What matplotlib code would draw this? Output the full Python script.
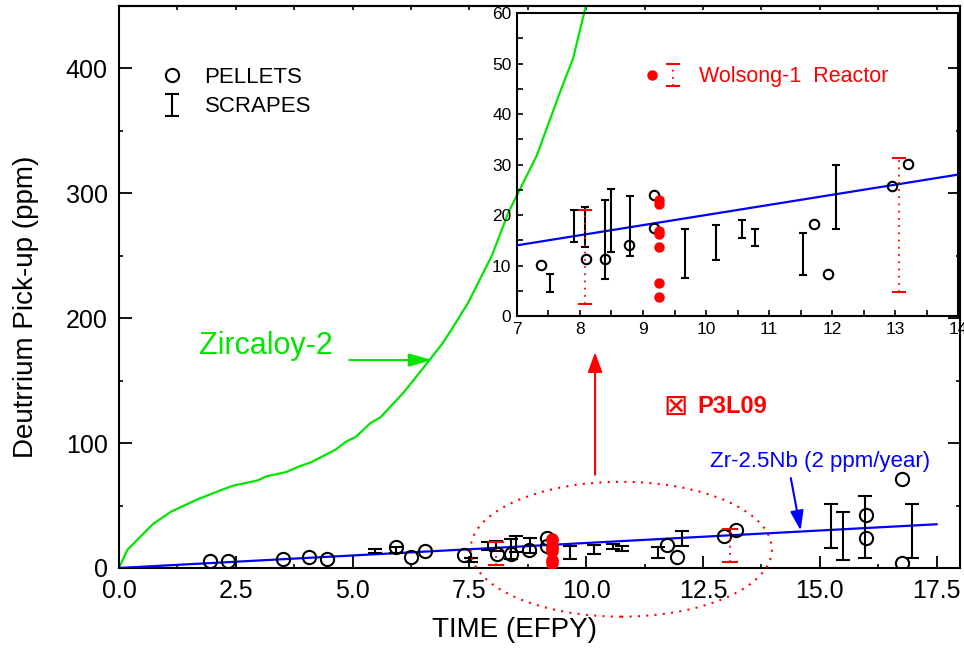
import numpy as np
import matplotlib.pyplot as plt
from matplotlib.patches import Ellipse
from matplotlib.legend_handler import HandlerTuple
from matplotlib.ticker import MultipleLocator, FormatStrFormatter

plt.rcParams['font.family'] = ['Liberation Sans', 'DejaVu Sans']

GREEN = '#00e600'

# Zircaloy-2 curve (EFPY, ppm)
zirc_t = [0.0, 0.18, 0.73, 1.12, 1.66, 2.08, 2.44, 2.97, 3.15, 3.58, 3.86, 4.11, 4.36,
          4.64, 4.85, 5.07, 5.39, 5.60, 6.10, 6.63, 6.91, 7.12, 7.48, 7.98, 8.34, 8.94,
          9.47, 9.72, 10.0]
zirc_d = [0.0, 14.5, 35.3, 45.2, 54.6, 60.8, 65.9, 70.1, 73.3, 76.8, 81.4, 84.6, 89.4,
          94.8, 100.9, 105.0, 116.2, 120.7, 140.8, 165.7, 179.0, 191.0, 212.8, 250.0, 285.0, 330.0,
          384.0, 408.0, 451.0]

# Zr-2.5Nb trend (2 ppm/year)
fit_t = [0.0, 17.5]
fit_d = [0.0, 35.0]

# pellets
pel_t = [1.95, 2.33, 3.52, 4.07, 4.46, 5.94, 6.25, 6.55, 7.38, 8.10, 8.39, 8.77, 9.17, 9.17,
         11.72, 11.94, 12.96, 13.21, 15.98, 15.98, 16.76, 16.76]
pel_d = [5.9, 5.4, 7.5, 9.1, 7.0, 16.6, 8.6, 13.9, 10.2, 11.3, 11.3, 14.0, 23.9, 17.5,
         18.3, 8.4, 25.7, 30.2, 42.6, 23.8, 71.2, 3.7]

# scrapes (low / high)
scr_t = [5.47, 5.94, 7.53, 7.90, 8.08, 8.40, 8.49, 8.79, 9.66, 10.16, 10.57, 10.77, 11.54,
         12.06, 15.23, 15.49, 15.96, 16.97]
scr_lo = [12.3, 12.0, 4.7, 14.6, 13.7, 7.4, 12.6, 11.8, 7.5, 11.0, 15.4, 13.8, 8.2,
          17.3, 15.8, 6.4, 7.7, 7.7]
scr_hi = [15.0, 16.8, 8.3, 21.0, 21.6, 22.9, 25.2, 23.7, 17.3, 18.1, 19.0, 17.3, 16.5,
          30.0, 51.1, 45.2, 57.3, 51.4]

# Wolsong-1 reactor
wol_t = [9.26, 9.26, 9.26, 9.26, 9.26, 9.26, 9.26]
wol_d = [22.9, 22.1, 16.9, 16.2, 13.7, 6.5, 3.8]
wol_scr_t = [8.08, 13.07]
wol_scr_lo = [2.4, 4.7]
wol_scr_hi = [21.0, 31.2]

scr_mid = (np.array(scr_lo) + np.array(scr_hi)) / 2
scr_err = (np.array(scr_hi) - np.array(scr_lo)) / 2
wol_mid = (np.array(wol_scr_lo) + np.array(wol_scr_hi)) / 2
wol_err = (np.array(wol_scr_hi) - np.array(wol_scr_lo)) / 2


def draw_data(a, big):
    ms = 9.5 if big else 6.8
    cap = 4.7 if big else 2.8
    a.plot(zirc_t, zirc_d, color=GREEN, lw=1.6, zorder=2)
    a.plot(fit_t, fit_d, color='blue', lw=1.6, zorder=3)
    sc = a.errorbar(scr_t, scr_mid, yerr=scr_err, fmt='none', ecolor='k',
                    elinewidth=1.5, capsize=cap, capthick=1.5, zorder=4)
    pl, = a.plot(pel_t, pel_d, 'o', mfc='none', mec='k', ms=ms, mew=1.5, zorder=4)
    wb = a.errorbar(wol_scr_t, wol_mid, yerr=wol_err, fmt='none', ecolor='red',
                    elinewidth=1.3, capsize=6 if big else 4.7, capthick=1.5, zorder=5)
    wb[2][0].set_linestyle((0, (1, 3)))
    wp, = a.plot(wol_t, wol_d, 'o', color='red', ms=8 if big else 6.5, zorder=6)
    return pl, sc, wp, wb


fig = plt.figure(figsize=(9.64, 6.5), dpi=100)
ax = fig.add_axes([0.1234, 0.1262, 0.8724, 0.8646])
pl, sc, wp, wb = draw_data(ax, True)

ax.set_xlim(0, 18)
ax.set_ylim(0, 450)
ax.set_xticks(np.arange(0, 17.6, 2.5))
ax.xaxis.set_major_formatter(FormatStrFormatter('%.1f'))
ax.xaxis.set_minor_locator(MultipleLocator(1.25))
ax.set_yticks(np.arange(0, 401, 100))
ax.yaxis.set_minor_locator(MultipleLocator(50))
ax.tick_params(which='major', direction='in', length=9, width=1.3, labelsize=18, pad=8,
               right=True)
ax.tick_params(which='minor', direction='in', length=3, width=1.2, right=True)
top = ax.secondary_xaxis('top')
top.set_xticks(np.arange(0, 18, 1.25))
top.tick_params(direction='in', length=3, width=1.2, labeltop=False)
top.spines['top'].set_linewidth(1.5)
for s in ax.spines.values():
    s.set_linewidth(1.5)

ax.set_xlabel('TIME (EFPY)', fontsize=20)
ax.set_ylabel('Deutrrium Pick-up (ppm)', fontsize=20)
ax.xaxis.set_label_coords(0.47, -0.087)
ax.yaxis.set_label_coords(-0.095, 0.465)

# legend
leg = ax.legend([pl, sc], ['PELLETS', 'SCRAPES'], loc='upper left',
                bbox_to_anchor=(0.037, 0.912), frameon=False, fontsize=16,
                handlelength=1.0, handletextpad=0.95, borderpad=0, labelspacing=0.4)

# highlight ellipse and arrows
ax.add_patch(Ellipse((10.75, 15), 6.45, 108, fill=False, ec='red', lw=1.5,
                     ls=(0, (1, 3)), clip_on=False, zorder=7))
ax.annotate('', xy=(10.19, 172.7), xytext=(10.19, 74.7),
            arrowprops=dict(arrowstyle='-|>,head_length=0.6,head_width=0.22',
                            color='red', lw=1.5, mutation_scale=20, shrinkA=0, shrinkB=0))
ax.annotate('', xy=(6.70, 166.5), xytext=(4.93, 166.5),
            arrowprops=dict(arrowstyle='-|>,head_length=0.7,head_width=0.2',
                            color=GREEN, lw=1.5, mutation_scale=20, shrinkA=0, shrinkB=0))
ax.annotate('', xy=(14.59, 29.9), xytext=(14.38, 72),
            arrowprops=dict(arrowstyle='-|>,head_length=0.6,head_width=0.2',
                            color='blue', lw=1.5, mutation_scale=20, shrinkA=0, shrinkB=0))

ax.text(1.71, 177.5, 'Zircaloy-2', color=GREEN, fontsize=22, ha='left', va='center')
ax.text(12.64, 85.4, 'Zr-2.5Nb (2 ppm/year)', color='blue', fontsize=16,
        ha='left', va='center')
ax.text(11.91, 129.3, '\u22a0', color='red', fontsize=21, ha='center', va='center',
        family='DejaVu Sans')
ax.text(12.37, 129.3, 'P3L09', color='red', fontsize=17, fontweight='bold',
        ha='left', va='center')

# inset
ins = fig.add_axes([0.5363, 0.5138, 0.4575, 0.4662])
ins.set_facecolor('none')
ipl, isc, iwp, iwb = draw_data(ins, False)
ins.set_xlim(7, 14)
ins.set_ylim(0, 60)
ins.set_xticks(np.arange(7, 15, 1))
ins.xaxis.set_minor_locator(MultipleLocator(0.5))
ins.set_yticks(np.arange(0, 61, 10))
ins.yaxis.set_minor_locator(MultipleLocator(5))
ins.tick_params(which='both', direction='in', length=4, width=1.2, labelsize=12.5, pad=4)
for s in ins.spines.values():
    s.set_linewidth(1.5)

ins.legend([(iwp, iwb)], ['Wolsong-1  Reactor'], loc='center left',
           bbox_to_anchor=(0.262, 0.789), frameon=False, fontsize=15.5, labelcolor='red',
           handler_map={tuple: HandlerTuple(ndivide=None, pad=0.2)},
           handlelength=1.8, handletextpad=0.8, borderpad=0)

fig.savefig('out.png', dpi=100)
